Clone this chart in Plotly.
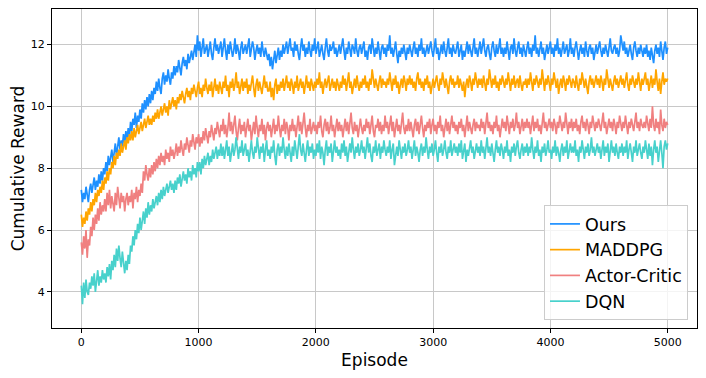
import plotly.graph_objects as go

# episodes sampled every 10 steps
episodes = list(range(0, 5001, 10))

ours = [
    7.3, 6.9, 7.2, 7.0, 7.4, 7.1, 6.9, 7.3, 7.5, 7.2, 7.4, 7.7, 7.3, 7.6, 7.4, 7.8, 7.5, 7.9, 7.6, 8.0,
    7.8, 8.2, 7.9, 8.4, 8.1, 8.3, 8.6, 8.2, 8.5, 8.8, 8.4, 8.7, 9.0, 8.6, 8.9, 8.7, 9.1, 8.8, 9.2, 8.9,
    9.3, 9.0, 9.5, 9.2, 9.6, 9.4, 9.8, 9.3, 9.7, 9.5, 9.9, 9.6, 10.1, 9.8, 10.2, 9.9, 10.3, 10.0, 10.4, 10.1,
    10.5, 10.2, 10.6, 10.4, 10.8, 10.5, 10.9, 10.6, 10.4, 10.9, 11.1, 10.7, 11.0, 10.8, 11.2, 10.9, 10.7, 11.1, 10.9, 11.3,
    11.0, 11.3, 11.1, 11.5, 11.2, 11.0, 11.4, 11.6, 11.3, 11.5, 11.2, 11.7, 11.4, 11.6, 11.8, 11.5, 11.7, 12.0, 11.6, 12.3,
    11.8, 12.1, 11.6, 11.9, 12.2, 11.7, 11.9, 12.0, 11.6, 11.8, 12.1, 11.7, 11.5, 11.9, 12.2, 11.8, 12.0, 11.7, 11.9, 12.1,
    11.6, 11.9, 12.2, 11.8, 11.5, 12.0, 11.7, 12.1, 11.9, 11.6, 11.8, 12.2, 11.7, 12.0, 11.8, 11.5, 11.9, 12.1, 11.7, 11.9,
    12.0, 11.7, 11.9, 12.2, 11.6, 11.8, 12.1, 11.9, 11.5, 11.8, 12.0, 11.7, 11.9, 11.6, 12.1, 11.8, 11.6, 11.9, 11.7, 11.5,
    11.7, 11.3, 11.6, 11.2, 11.5, 11.8, 11.4, 11.6, 11.9, 11.5, 11.8, 11.6, 12.0, 11.7, 11.9, 12.1, 11.7, 11.9, 12.2, 11.8,
    11.9, 11.6, 12.1, 11.8, 12.0, 11.7, 11.5, 11.9, 12.2, 11.8, 12.0, 11.6, 11.9, 11.7, 12.1, 11.8, 11.6, 12.0, 11.8, 12.2,
    11.7, 11.9, 12.1, 11.6, 11.8, 12.0, 11.7, 11.5, 11.9, 12.2, 11.8, 11.6, 12.0, 11.8, 11.9, 12.1, 11.7, 11.9, 11.6, 11.8,
    12.0, 11.7, 11.9, 12.2, 11.8, 11.5, 11.9, 11.7, 12.1, 11.8, 11.6, 12.0, 11.9, 11.7, 12.2, 11.8, 11.6, 11.9, 12.0, 11.7,
    11.9, 12.1, 11.6, 11.8, 11.5, 11.9, 12.0, 11.7, 12.2, 11.8, 11.6, 11.9, 11.7, 12.1, 11.8, 11.5, 11.9, 12.0, 11.7, 11.9,
    11.6, 12.0, 11.8, 12.3, 11.7, 11.9, 11.6, 11.8, 12.1, 11.7, 11.4, 11.8, 11.6, 11.9, 11.7, 12.0, 11.8, 11.5, 11.9, 11.7,
    12.0, 11.8, 11.6, 11.9, 12.1, 11.7, 11.9, 11.6, 12.0, 11.8, 12.2, 11.7, 11.9, 11.6, 11.8, 12.0, 11.7, 11.9, 12.1, 11.8,
    11.6, 11.9, 12.2, 11.7, 11.9, 11.5, 11.8, 12.0, 11.7, 12.1, 11.8, 11.6, 11.9, 12.2, 11.7, 11.9, 11.6, 12.0, 11.8, 11.7,
    11.9, 12.1, 11.6, 11.8, 12.0, 11.5, 11.8, 11.6, 11.9, 12.1, 11.7, 12.0, 11.8, 11.6, 11.9, 12.2, 11.7, 11.9, 11.6, 11.8,
    12.1, 11.7, 11.9, 12.2, 11.8, 11.6, 11.9, 12.0, 11.7, 11.5, 11.9, 12.1, 11.8, 11.6, 12.0, 11.7, 11.9, 12.2, 11.7, 11.9,
    11.6, 11.9, 11.7, 12.1, 11.8, 11.5, 11.9, 12.0, 11.7, 12.2, 11.8, 11.6, 11.9, 12.1, 11.7, 11.9, 11.6, 12.0, 11.8, 11.6,
    11.9, 12.1, 11.7, 11.9, 11.6, 12.0, 11.8, 12.3, 11.7, 11.9, 11.6, 11.8, 12.1, 11.7, 11.9, 11.5, 11.8, 12.0, 11.7, 11.9,
    12.1, 11.7, 11.9, 11.6, 12.0, 11.8, 12.2, 11.7, 11.9, 11.6, 11.8, 12.1, 11.7, 11.9, 12.0, 11.6, 11.8, 12.2, 11.7, 11.9,
    11.6, 11.9, 12.1, 11.8, 11.5, 11.8, 12.0, 11.7, 11.9, 11.6, 12.1, 11.8, 11.6, 11.9, 12.0, 11.7, 11.9, 11.5, 11.8, 12.0,
    11.7, 11.9, 12.1, 11.8, 11.6, 11.9, 11.7, 12.0, 11.8, 11.6, 11.9, 12.2, 11.8, 11.7, 11.9, 12.0, 11.7, 11.9, 11.6, 11.8,
    12.3, 12.0, 11.8, 12.1, 11.7, 11.9, 11.6, 11.8, 12.0, 11.7, 11.5, 11.9, 12.1, 11.8, 11.6, 11.9, 11.7, 12.0, 11.8, 11.6,
    11.9, 11.7, 12.0, 11.6, 11.8, 11.5, 11.9, 11.7, 11.4, 11.8, 12.0, 11.7, 11.9, 11.6, 12.1, 11.8, 11.5, 11.9, 12.1, 11.7,
    11.9,
]

maddpg = [
    6.5, 6.1, 6.4, 6.2, 6.6, 6.3, 6.7, 6.5, 6.9, 6.6, 7.0, 6.8, 7.2, 6.9, 7.3, 7.1, 7.4, 7.2, 7.6, 7.3,
    7.7, 7.5, 7.9, 7.6, 8.0, 7.8, 8.2, 8.0, 8.4, 8.1, 8.5, 8.3, 8.6, 8.4, 8.8, 8.5, 8.7, 8.9, 8.6, 9.0,
    8.8, 9.1, 8.9, 9.2, 8.9, 9.3, 9.0, 9.2, 9.4, 9.1, 9.3, 9.5, 9.2, 9.4, 9.6, 9.3, 9.5, 9.7, 9.4, 9.6,
    9.4, 9.7, 9.5, 9.8, 9.6, 9.9, 9.6, 9.8, 10.0, 9.7, 9.9, 10.1, 9.8, 10.0, 9.7, 10.2, 9.9, 10.1, 10.3, 10.0,
    10.2, 9.9, 10.3, 10.1, 10.4, 10.2, 10.5, 10.3, 10.1, 10.4, 10.6, 10.3, 10.5, 10.2, 10.6, 10.4, 10.7, 10.5, 10.3, 10.6,
    10.8, 10.4, 10.6, 10.3, 10.7, 10.5, 10.9, 10.6, 10.4, 10.7, 10.5, 10.8, 10.3, 10.6, 10.9, 10.5, 10.7, 10.4, 10.8, 10.6,
    10.4, 10.8, 10.6, 11.0, 10.5, 10.7, 10.3, 10.8, 10.6, 10.9, 10.5, 10.7, 11.1, 10.6, 10.8, 10.4, 10.7, 10.9, 10.5, 10.8,
    10.6, 10.9, 10.4, 10.7, 10.5, 10.8, 11.0, 10.6, 10.3, 10.7, 10.9, 10.5, 10.8, 10.6, 10.4, 10.7, 11.0, 10.6, 10.8, 10.5,
    10.5, 10.8, 10.3, 10.6, 10.2, 10.7, 10.9, 10.4, 10.7, 10.5, 10.8, 10.6, 10.9, 10.5, 10.7, 11.0, 10.6, 10.8, 10.5, 10.9,
    10.7, 10.4, 10.8, 10.6, 11.0, 10.5, 10.7, 10.9, 10.6, 10.8, 10.4, 10.7, 11.0, 10.6, 10.8, 10.5, 10.9, 10.7, 10.5, 10.8,
    10.6, 10.9, 10.7, 11.1, 10.6, 10.8, 10.4, 10.7, 10.9, 10.6, 10.8, 11.0, 10.5, 10.7, 10.9, 10.6, 10.8, 10.5, 10.9, 10.7,
    10.5, 10.8, 10.6, 11.0, 10.7, 10.9, 10.5, 10.8, 11.1, 10.6, 10.8, 10.4, 10.7, 10.9, 10.6, 11.0, 10.7, 10.5, 10.8, 10.6,
    10.9, 10.7, 11.0, 10.6, 10.8, 10.5, 10.9, 10.7, 11.2, 10.8, 10.6, 10.9, 10.7, 10.5, 10.8, 11.0, 10.6, 10.9, 10.7, 10.8,
    10.6, 10.9, 10.7, 11.1, 10.8, 10.5, 10.9, 10.7, 11.0, 10.6, 10.8, 10.4, 10.7, 10.9, 10.6, 11.0, 10.8, 10.5, 10.9, 10.7,
    11.0, 10.7, 10.9, 10.6, 10.8, 10.5, 10.9, 11.1, 10.7, 10.9, 10.6, 10.8, 10.5, 10.9, 10.7, 11.0, 10.6, 10.8, 10.4, 10.7,
    10.9, 10.6, 10.8, 11.0, 10.7, 10.5, 10.9, 10.7, 11.1, 10.8, 10.6, 10.9, 10.7, 10.4, 10.8, 11.0, 10.7, 10.9, 10.6, 10.8,
    10.7, 11.0, 10.6, 10.9, 10.7, 10.5, 10.8, 10.3, 10.7, 10.9, 10.6, 11.0, 10.8, 10.5, 10.9, 10.7, 11.1, 10.8, 10.6, 10.9,
    10.7, 10.9, 10.6, 11.0, 10.8, 10.5, 10.9, 10.7, 11.2, 10.8, 10.6, 10.9, 10.7, 11.0, 10.6, 10.8, 10.5, 10.9, 10.7, 11.0,
    10.8, 10.6, 10.9, 10.7, 11.1, 10.8, 10.5, 10.9, 10.7, 11.0, 10.6, 10.8, 10.9, 10.6, 11.0, 10.7, 10.5, 10.8, 10.7, 10.9,
    10.6, 10.9, 10.7, 11.1, 10.8, 10.5, 10.9, 10.7, 11.0, 10.8, 10.6, 10.9, 10.7, 11.2, 10.8, 10.5, 10.9, 10.7, 11.0, 10.8,
    10.5, 10.9, 10.7, 11.1, 10.8, 10.6, 10.9, 10.4, 10.7, 10.9, 10.6, 11.0, 10.8, 10.5, 10.9, 10.7, 11.0, 10.8, 10.6, 10.9,
    10.8, 10.6, 11.0, 10.7, 10.5, 10.9, 10.7, 11.1, 10.8, 10.6, 10.9, 10.7, 10.4, 10.8, 11.0, 10.7, 10.9, 10.6, 10.8, 11.0,
    10.7, 10.9, 10.6, 11.0, 10.8, 10.5, 10.9, 10.7, 11.2, 10.8, 10.6, 10.9, 10.7, 10.5, 10.8, 11.0, 10.7, 10.9, 10.6, 10.8,
    11.0, 10.7, 10.9, 10.6, 10.8, 11.1, 10.7, 10.5, 10.9, 10.7, 11.0, 10.8, 10.6, 10.9, 10.7, 11.1, 10.8, 10.5, 10.9, 10.7,
    10.9, 11.1, 10.7, 10.9, 10.5, 10.8, 11.0, 10.6, 10.9, 10.7, 11.2, 10.8, 10.5, 10.9, 10.4, 10.8, 11.1, 10.7, 10.9, 10.8,
    10.9,
]

actor_critic = [
    5.6, 5.2, 5.8, 5.4, 6.0, 5.1, 5.7, 5.5, 6.1, 5.8, 6.4, 6.0, 6.5, 6.2, 6.7, 6.3, 6.9, 6.5, 6.8, 6.6,
    7.0, 6.6, 7.2, 6.8, 7.3, 6.7, 7.1, 6.9, 6.6, 7.2, 6.8, 7.4, 7.0, 6.7, 7.2, 6.9, 7.1, 6.6, 7.0, 7.2,
    6.8, 7.1, 6.9, 7.3, 6.7, 7.2, 7.0, 7.4, 6.9, 7.3, 7.1, 7.5, 7.2, 7.9, 7.6, 8.1, 7.8, 7.6, 8.0, 7.7,
    8.1, 7.8, 8.2, 7.9, 8.3, 8.0, 8.4, 8.1, 8.5, 8.2, 8.4, 8.1, 8.6, 8.3, 8.5, 8.2, 8.7, 8.4, 8.6, 8.3,
    8.5, 8.8, 8.4, 8.7, 8.5, 8.9, 8.6, 8.4, 8.8, 8.6, 9.0, 8.7, 8.5, 8.9, 8.7, 9.1, 8.8, 8.6, 9.0, 8.8,
    9.1, 8.7, 9.0, 8.8, 9.2, 8.9, 9.3, 9.0, 8.8, 9.2, 9.0, 9.4, 9.1, 8.9, 9.3, 9.1, 9.5, 9.2, 9.0, 9.4,
    9.2, 9.6, 9.1, 9.4, 9.0, 9.3, 9.8, 9.2, 9.5, 9.1, 9.4, 9.7, 9.2, 8.9, 9.3, 9.6, 9.1, 9.4, 9.2, 9.5,
    9.0, 9.3, 9.6, 9.2, 9.4, 8.9, 9.3, 9.5, 9.1, 9.7, 9.3, 9.0, 9.4, 9.2, 9.6, 9.1, 9.4, 8.9, 9.3, 9.5,
    9.2, 9.4, 9.0, 9.3, 9.6, 9.1, 9.4, 9.2, 9.7, 9.3, 9.0, 9.4, 9.2, 9.6, 9.1, 9.5, 9.3, 8.9, 9.4, 9.2,
    9.6, 9.2, 9.4, 9.0, 9.3, 9.7, 9.2, 9.5, 9.1, 9.4, 9.8, 9.3, 9.0, 9.4, 9.2, 9.6, 9.1, 9.3, 9.5, 9.2,
    9.4, 9.1, 9.5, 9.3, 9.7, 9.2, 9.0, 9.4, 9.6, 9.2, 9.5, 9.1, 9.3, 9.7, 9.2, 9.4, 9.0, 9.3, 9.6, 9.2,
    9.5, 9.2, 9.4, 9.0, 9.3, 9.6, 9.2, 9.5, 9.1, 9.4, 9.8, 9.3, 9.1, 9.5, 9.2, 9.4, 9.0, 9.3, 9.6, 9.3,
    9.1, 9.4, 9.2, 9.6, 9.3, 9.5, 9.1, 9.4, 9.7, 9.2, 9.0, 9.4, 9.3, 9.6, 9.2, 9.5, 9.1, 9.4, 9.2, 9.7,
    9.3, 9.5, 9.1, 9.4, 9.7, 9.2, 9.5, 9.0, 9.3, 9.6, 9.2, 9.4, 9.1, 9.5, 9.8, 9.3, 9.1, 9.4, 9.2, 9.6,
    9.2, 9.5, 9.3, 9.0, 9.4, 9.6, 9.2, 9.5, 9.1, 9.4, 9.7, 9.3, 9.0, 9.4, 9.2, 9.5, 9.3, 9.6, 9.1, 9.4,
    9.6, 9.2, 9.4, 9.1, 9.5, 9.3, 9.7, 9.2, 9.4, 9.0, 9.3, 9.6, 9.2, 9.5, 9.1, 9.4, 9.7, 9.3, 9.5, 9.2,
    9.4, 9.1, 9.5, 9.3, 9.6, 9.2, 9.4, 9.0, 9.3, 9.7, 9.2, 9.5, 9.3, 9.1, 9.4, 9.6, 9.2, 9.5, 9.3, 9.4,
    9.2, 9.6, 9.3, 9.5, 9.1, 9.4, 9.8, 9.3, 9.5, 9.2, 9.4, 9.1, 9.5, 9.3, 9.7, 9.2, 9.4, 9.0, 9.4, 9.6,
    9.3, 9.5, 9.2, 9.7, 9.4, 9.1, 9.5, 9.3, 9.6, 9.2, 9.4, 9.8, 9.3, 9.5, 9.1, 9.4, 9.6, 9.2, 9.5, 9.3,
    9.6, 9.3, 9.5, 9.1, 9.4, 9.7, 9.2, 9.5, 9.3, 9.6, 9.2, 9.4, 9.1, 9.5, 9.8, 9.3, 9.5, 9.2, 9.4, 9.6,
    9.3, 9.5, 9.2, 9.6, 9.4, 9.1, 9.5, 9.3, 9.7, 9.4, 9.2, 9.5, 9.3, 9.8, 9.4, 9.1, 9.5, 9.3, 9.6, 9.2,
    9.5, 9.3, 9.6, 9.2, 9.4, 9.1, 9.5, 9.7, 9.3, 9.5, 9.2, 9.6, 9.4, 9.1, 9.5, 9.3, 9.7, 9.4, 9.2, 9.5,
    9.3, 9.6, 9.4, 9.2, 9.5, 9.8, 9.3, 9.5, 9.1, 9.4, 9.6, 9.3, 9.5, 9.2, 9.6, 9.4, 9.1, 9.5, 9.3, 9.7,
    9.4, 9.2, 9.5, 9.3, 9.7, 9.4, 9.1, 9.5, 9.3, 9.6, 9.4, 9.2, 9.5, 9.8, 9.3, 9.5, 9.2, 9.6, 9.4, 9.3,
    9.5, 9.3, 9.7, 9.4, 9.2, 9.6, 9.3, 10.0, 9.4, 9.2, 9.6, 9.3, 9.5, 9.1, 9.9, 9.4, 9.2, 9.6, 9.3, 9.5,
    9.4,
]

dqn = [
    4.2, 3.6, 4.3, 3.8, 4.4, 4.0, 3.9, 4.3, 4.1, 4.5, 4.2, 4.6, 4.0, 4.4, 4.7, 4.2, 4.5, 4.3, 4.7, 4.4,
    4.6, 4.3, 4.8, 4.5, 4.9, 4.4, 5.0, 4.7, 5.2, 4.8, 5.4, 5.0, 5.5, 5.1, 4.8, 5.3, 4.9, 4.6, 5.0, 4.7,
    5.2, 4.9, 5.5, 5.3, 5.8, 5.5, 6.0, 5.7, 6.2, 5.9, 6.4, 6.0, 6.3, 6.6, 6.2, 6.7, 6.4, 6.9, 6.5, 6.8,
    6.6, 7.0, 6.7, 6.9, 7.1, 6.8, 7.2, 6.9, 7.3, 7.0, 7.4, 7.1, 7.3, 7.5, 7.2, 7.4, 7.6, 7.3, 7.5, 7.2,
    7.6, 7.3, 7.7, 7.5, 7.8, 7.4, 7.7, 7.9, 7.6, 7.8, 7.5, 8.0, 7.7, 7.9, 7.6, 8.1, 7.8, 8.0, 7.7, 8.2,
    7.9, 8.2, 7.8, 8.3, 8.0, 8.4, 8.1, 8.3, 8.5, 8.1, 8.4, 8.2, 8.6, 8.3, 8.5, 8.7, 8.3, 8.6, 8.4, 8.8,
    8.4, 8.7, 8.3, 8.6, 8.9, 8.4, 8.7, 8.2, 8.6, 8.8, 8.4, 8.6, 9.0, 8.5, 8.3, 8.7, 8.5, 8.9, 8.4, 8.6,
    8.8, 8.4, 8.6, 8.2, 8.7, 8.9, 8.5, 8.3, 8.7, 8.5, 9.0, 8.6, 8.3, 8.7, 8.5, 8.8, 8.2, 8.6, 8.9, 8.4,
    8.6, 8.3, 8.7, 8.5, 8.9, 8.4, 8.1, 8.6, 8.8, 8.4, 8.7, 8.5, 9.0, 8.6, 8.3, 8.7, 8.4, 8.8, 8.5, 8.2,
    8.7, 8.4, 8.9, 8.5, 8.3, 8.7, 9.1, 8.6, 8.4, 8.8, 8.5, 8.2, 8.6, 8.9, 8.4, 8.7, 8.5, 8.8, 8.3, 8.6,
    8.4, 8.8, 8.5, 8.9, 8.3, 8.7, 8.5, 8.1, 8.6, 8.9, 8.4, 8.7, 8.5, 8.8, 8.2, 8.6, 8.9, 8.5, 8.7, 8.4,
    8.6, 8.3, 8.8, 8.5, 8.9, 8.4, 8.7, 8.2, 8.6, 8.8, 8.5, 9.0, 8.6, 8.3, 8.7, 8.5, 8.8, 8.4, 8.6, 8.9,
    8.5, 8.7, 8.3, 8.6, 9.0, 8.5, 8.8, 8.4, 8.2, 8.7, 8.5, 8.9, 8.4, 8.6, 8.8, 8.3, 8.7, 8.5, 8.9, 8.6,
    8.4, 8.7, 8.5, 8.9, 8.3, 8.6, 8.8, 8.1, 8.5, 8.7, 8.4, 8.9, 8.6, 8.3, 8.7, 8.5, 8.8, 8.4, 8.6, 8.9,
    8.5, 8.7, 8.3, 8.6, 8.9, 8.4, 8.7, 8.5, 8.2, 8.6, 8.8, 8.4, 8.7, 8.5, 9.0, 8.6, 8.3, 8.7, 8.5, 8.8,
    8.4, 8.6, 8.9, 8.5, 8.2, 8.7, 8.5, 8.8, 8.4, 8.6, 8.9, 8.5, 8.3, 8.7, 8.5, 8.9, 8.4, 8.6, 8.8, 8.5,
    8.7, 8.4, 8.8, 8.5, 8.9, 8.3, 8.6, 8.8, 8.2, 8.6, 8.4, 8.7, 8.9, 8.5, 8.7, 8.3, 8.6, 8.8, 8.5, 8.7,
    8.4, 8.9, 8.5, 8.7, 8.3, 8.6, 9.0, 8.5, 8.7, 8.4, 8.8, 8.5, 8.2, 8.6, 8.9, 8.5, 8.7, 8.4, 8.8, 8.6,
    8.3, 8.7, 8.5, 8.9, 8.4, 8.6, 8.2, 8.7, 8.5, 8.8, 8.4, 8.7, 8.9, 8.5, 8.3, 8.6, 8.8, 8.4, 8.7, 8.5,
    8.8, 8.4, 8.7, 8.5, 9.0, 8.6, 8.3, 8.7, 8.5, 8.9, 8.4, 8.6, 8.2, 8.7, 8.5, 8.8, 8.4, 8.6, 8.9, 8.5,
    8.6, 8.3, 8.7, 8.5, 8.9, 8.4, 8.7, 8.5, 8.2, 8.6, 8.8, 8.4, 8.7, 8.5, 8.9, 8.3, 8.6, 8.8, 8.5, 8.7,
    8.5, 8.9, 8.4, 8.6, 8.2, 8.7, 8.5, 8.9, 8.6, 8.3, 8.7, 8.5, 8.8, 8.4, 8.6, 9.0, 8.5, 8.7, 8.4, 8.6,
    8.8, 8.5, 8.7, 8.3, 8.6, 8.9, 8.4, 8.7, 8.5, 8.8, 8.2, 8.6, 8.9, 8.5, 8.7, 8.4, 8.8, 8.5, 8.3, 8.7,
    8.5, 8.8, 8.4, 8.7, 8.5, 8.9, 8.3, 8.6, 8.8, 8.5, 8.2, 8.7, 8.5, 8.9, 8.4, 8.6, 8.8, 8.5, 8.3, 8.7,
    8.5, 8.9, 8.6, 8.3, 8.8, 8.4, 8.7, 8.1, 8.6, 8.9, 8.5, 8.7, 8.2, 8.6, 8.9, 8.5, 8.0, 8.7, 8.9, 8.6,
    8.8,
]

series_names = ["Ours", "MADDPG", "Actor-Critic", "DQN"]
x_ticks = [0, 1000, 2000, 3000, 4000, 5000]
y_ticks = [4, 6, 8, 10, 12]

colors = ["#1e90ff", "#ffa500", "#f08080", "#48d1cc"]
font = "DejaVu Sans, Liberation Sans, sans-serif"

fig = go.Figure()
for name, vals, col in zip(series_names, [ours, maddpg, actor_critic, dqn], colors):
    fig.add_trace(go.Scatter(x=episodes[:len(vals)], y=vals, mode="lines", name=name,
                             line=dict(color=col, width=1.7)))

axis_common = dict(
    showline=True, linecolor="black", linewidth=1, mirror=True,
    showgrid=True, gridcolor="#c8c8c8", gridwidth=1,
    ticks="outside", ticklen=4, tickcolor="black",
    tickfont=dict(family=font, size=11, color="black"),
    zeroline=False, automargin=False,
)

fig.update_xaxes(range=[-250, 5250], tickvals=x_ticks,
                 title=dict(text="Episode", font=dict(family=font, size=17, color="black"), standoff=5),
                 **axis_common)
fig.update_yaxes(range=[2.83, 13.15], tickvals=y_ticks,
                 title=dict(text="Cumulative Reward", font=dict(family=font, size=17, color="black"), standoff=2),
                 **axis_common)

# the page body adds an 8px offset, so the figure is sized to fit inside it
fig.update_layout(
    width=690, height=362,
    margin=dict(l=44, r=1, t=1, b=42, autoexpand=False),
    plot_bgcolor="white", paper_bgcolor="white",
    font=dict(family=font, color="black"),
    legend=dict(x=0.986, y=0.025, xanchor="right", yanchor="bottom",
                bgcolor="rgba(255,255,255,0.8)", bordercolor="#cccccc", borderwidth=1,
                entrywidth=112, entrywidthmode="pixels",
                font=dict(family=font, size=17.5, color="black")),
)

fig.write_html("out.html")
